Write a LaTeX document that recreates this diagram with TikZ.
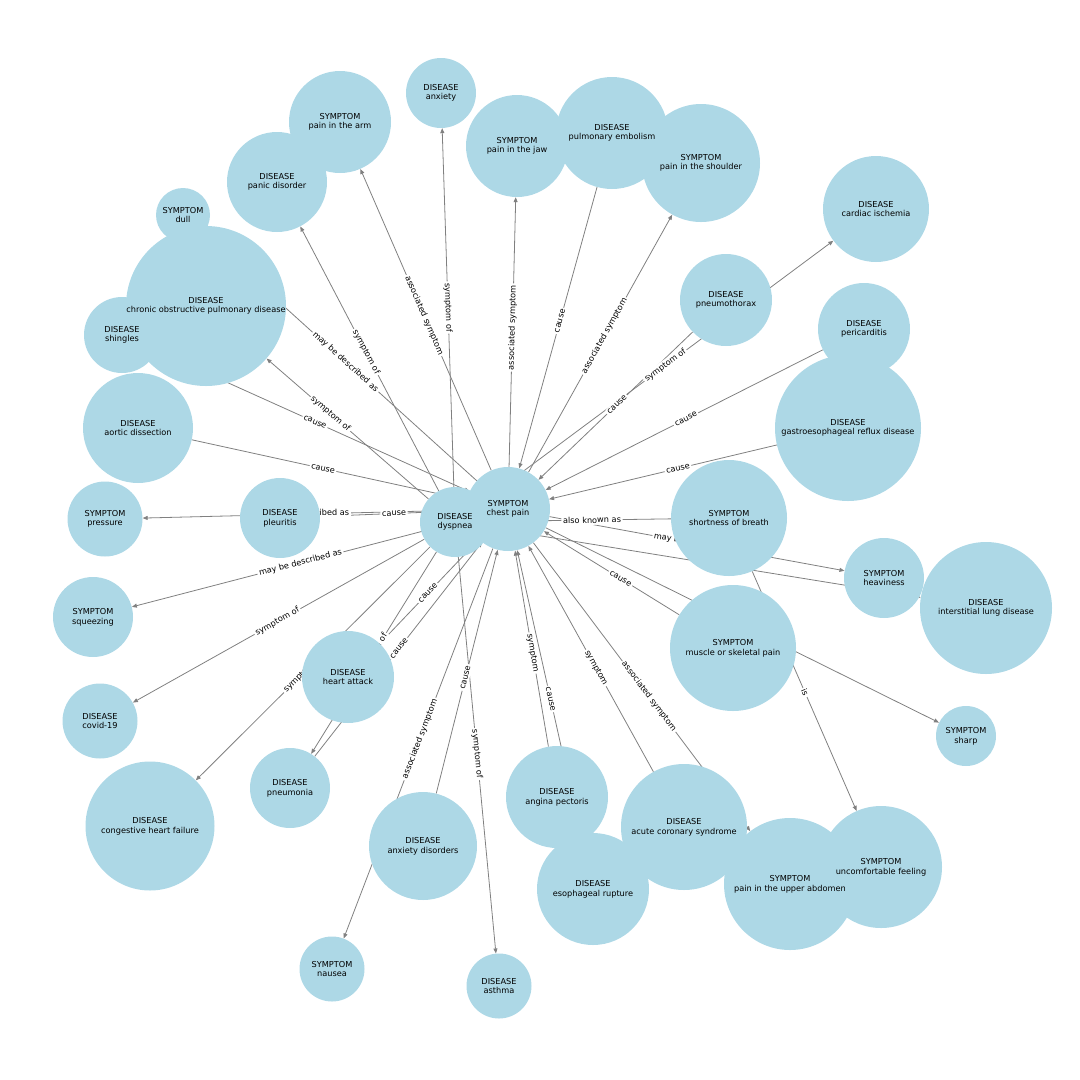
\documentclass[tikz,border=0pt]{standalone}
\usepackage{fontspec}
\setmainfont{DejaVu Sans}
\usetikzlibrary{arrows.meta}
\definecolor{nodeblue}{HTML}{ADD8E6}
\definecolor{edgegray}{HTML}{808080}
\pgfdeclarelayer{edges}
\pgfdeclarelayer{elabels}
\pgfsetlayers{edges,elabels,main}

\tikzset{
	entity/.style={circle, fill=nodeblue, draw=none, inner sep=0pt},
	nodetext/.style={align=center, inner sep=0pt, font=\fontsize{8.2}{9.6}\selectfont},
	relation/.style={draw=edgegray, line width=0.8pt, -{Triangle[length=5pt,width=4pt]}},
	relabel/.style={fill=white, rounded corners=2pt, inner sep=1.6pt, sloped, pos=0.5, font=\fontsize{8.2}{9.6}\selectfont},
}

\begin{document}
\begin{tikzpicture}[x=1pt,y=-1pt]
		\useasboundingbox (0,0) rectangle (1080,1080);
		
		% circles
		\foreach \id/\pos/\size in {cp/{508,509}/84, dys/{455,522}/70, arm/{340,122}/102, panic/{277,182}/100,
			anx/{441,93}/70, jaw/{517,146}/102, pe/{612,133}/112, shoulder/{701,163}/118, dull/{183,215}/54,
			copd/{206,306}/160, shingles/{122,335}/76, ischemia/{876,209}/106, pneumothorax/{726,300}/92,
			pericarditis/{864,329}/92, gerd/{848,428}/146, aortic/{138,428}/110, pressure/{105,519}/75,
			pleuritis/{280,518}/80, sob/{729,518}/116, heavy/{884,578}/80, ild/{986,608}/132,
			squeeze/{93,617}/80, msp/{733,648}/126, ha/{348,677}/92, covid/{100,721}/75, sharp/{966,736}/60,
			chf/{150,826}/129, pneumonia/{290,788}/80, anxdis/{423,846}/108, angina/{557,797}/102,
			acs/{684,827}/126, esoph/{593,889}/112, abdomen/{790,884}/132, uncomf/{881,867}/122,
			nausea/{332,969}/65, asthma/{499,986}/65}
		\node[entity, minimum size=\size pt] (\id) at (\pos) {};
		
		% texts
		\foreach \id/\txt in {cp/{SYMPTOM\\chest pain}, dys/{DISEASE\\dyspnea}, arm/{SYMPTOM\\pain in the arm},
			panic/{DISEASE\\panic disorder}, anx/{DISEASE\\anxiety}, jaw/{SYMPTOM\\pain in the jaw},
			pe/{DISEASE\\pulmonary embolism}, shoulder/{SYMPTOM\\pain in the shoulder}, dull/{SYMPTOM\\dull},
			copd/{DISEASE\\chronic obstructive pulmonary disease}, shingles/{DISEASE\\shingles},
			ischemia/{DISEASE\\cardiac ischemia}, pneumothorax/{DISEASE\\pneumothorax},
			pericarditis/{DISEASE\\pericarditis}, gerd/{DISEASE\\gastroesophageal reflux disease},
			aortic/{DISEASE\\aortic dissection}, pressure/{SYMPTOM\\pressure}, pleuritis/{DISEASE\\pleuritis},
			sob/{SYMPTOM\\shortness of breath}, heavy/{SYMPTOM\\heaviness}, ild/{DISEASE\\interstitial lung disease},
			squeeze/{SYMPTOM\\squeezing}, msp/{SYMPTOM\\muscle or skeletal pain}, ha/{DISEASE\\heart attack},
			covid/{DISEASE\\covid-19}, sharp/{SYMPTOM\\sharp}, chf/{DISEASE\\congestive heart failure},
			pneumonia/{DISEASE\\pneumonia}, anxdis/{DISEASE\\anxiety disorders}, angina/{DISEASE\\angina pectoris},
			acs/{DISEASE\\acute coronary syndrome}, esoph/{DISEASE\\esophageal rupture},
			abdomen/{SYMPTOM\\pain in the upper abdomen}, uncomf/{SYMPTOM\\uncomfortable feeling},
			nausea/{SYMPTOM\\nausea}, asthma/{DISEASE\\asthma}}
		\node[nodetext] at (\id) {\txt};
		
		% relations
		\foreach \a/\b/\rel in {cp/arm/associated symptom, dys/panic/symptom of, dys/anx/symptom of,
			cp/jaw/associated symptom, pe/cp/cause, cp/shoulder/associated symptom, cp/dull/may be described as,
			dys/copd/symptom of, shingles/cp/cause, aortic/cp/cause, cp/pressure/may be described as,
			pleuritis/cp/cause, cp/squeeze/may be described as, dys/covid/symptom of, dys/chf/symptom of,
			ha/cp/cause, dys/pneumonia/symptom of, pneumonia/cp/cause, cp/nausea/associated symptom,
			anxdis/cp/cause, dys/asthma/symptom of, angina/cp/symptom, esoph/cp/cause, acs/cp/symptom,
			cp/abdomen/associated symptom, sob/uncomf/is, msp/cp/cause, sob/dys/also known as,
			cp/heavy/may be described as, gerd/cp/cause, pericarditis/cp/cause, pneumothorax/cp/cause,
			dys/ischemia/symptom of}{
			\begin{pgfonlayer}{edges}
				\draw[relation] (\a) -- (\b);
			\end{pgfonlayer}
			\begin{pgfonlayer}{elabels}
				\path (\a.center) -- node[relabel] {\rel} (\b.center);
			\end{pgfonlayer}
		}
		
		\begin{pgfonlayer}{edges}
			\draw[relation] (cp) -- (sharp);
			\draw[relation] (dys) -- (ild);
		\end{pgfonlayer}
		
\end{tikzpicture}
\end{document}
